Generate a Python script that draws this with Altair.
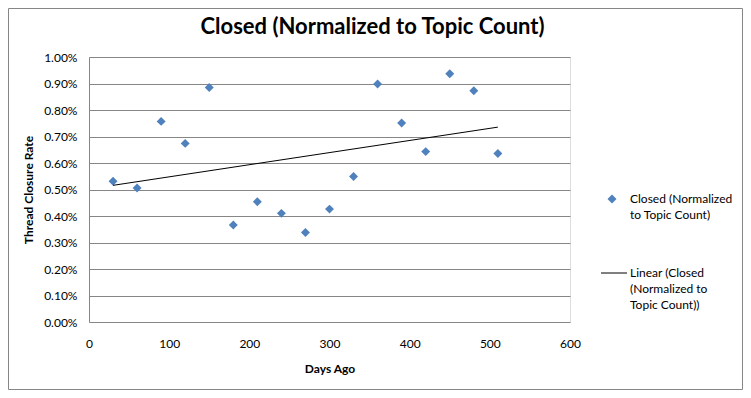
import altair as alt
import pandas as pd

days_ago = [30, 60, 90, 120, 150, 180, 210, 240, 270, 300, 330, 360, 390, 420, 450, 480, 510]
closure_rate = [0.00531, 0.00506, 0.00757, 0.00674, 0.00885, 0.00366, 0.00454, 0.00410, 0.00338,
                0.00426, 0.00549, 0.00898, 0.00751, 0.00643, 0.00937, 0.00873, 0.00636]
y_ticks = [0.0, 0.001, 0.002, 0.003, 0.004, 0.005, 0.006, 0.007, 0.008, 0.009, 0.01]
x_ticks = [0, 100, 200, 300, 400, 500, 600]

FONT = "Lato"
BLUE = "#4F81BD"
GRID = "#868686"

df = pd.DataFrame({"days": days_ago, "rate": closure_rate})
one = alt.Data(values=[{}])

x_axis = alt.Axis(values=x_ticks, tickCount=20, title="Days Ago", grid=False, ticks=False,
                  domain=False, labelPadding=16, titlePadding=14,
                  labelFlush=False, labelOverlap=False,
                  labelFontSize=12, titleFontSize=12, titleFontWeight="bold",
                  labelColor="black", titleColor="black", labelFont=FONT, titleFont=FONT)
y_axis = alt.Axis(values=y_ticks, tickCount=20, format=".2%", title="Thread Closure Rate",
                  grid=True, gridColor=GRID, gridWidth=1, ticks=False,
                  labelFlush=False, labelOverlap=False,
                  domain=True, domainColor=GRID, labelPadding=12, titlePadding=8,
                  labelFontSize=12, titleFontSize=12, titleFontWeight="bold",
                  labelColor="black", titleColor="black", labelFont=FONT, titleFont=FONT)
x_scale = alt.Scale(domain=[0, 600], nice=False)
y_scale = alt.Scale(domain=[0, 0.01], nice=False)

base = alt.Chart(df)

points = base.mark_point(shape="diamond", filled=True, size=80, color=BLUE, opacity=1).encode(
    x=alt.X("days:Q", scale=x_scale, axis=x_axis),
    y=alt.Y("rate:Q", scale=y_scale, axis=y_axis))

trend = base.transform_regression("days", "rate", method="linear").mark_line(
    color="black", strokeWidth=1).encode(
    x=alt.X("days:Q", scale=x_scale, axis=x_axis),
    y=alt.Y("rate:Q", scale=y_scale, axis=y_axis))

title = alt.Chart(one).mark_text(text="Closed (Normalized to Topic Count)", font=FONT,
                                 fontSize=22, fontWeight="bold", color="black",
                                 align="center", baseline="middle").encode(
    x=alt.value(283.5), y=alt.value(-30))

leg_marker = alt.Chart(one).mark_point(shape="diamond", filled=True, size=80, color=BLUE,
                                       opacity=1).encode(x=alt.value(523), y=alt.value(142))
leg_rule = alt.Chart(one).mark_rule(color="black", strokeWidth=1).encode(
    x=alt.value(512), x2=alt.value(538), y=alt.value(216))

leg_lines = [("Closed (Normalized", 142), ("to Topic Count)", 158),
             ("Linear (Closed", 216), ("(Normalized to", 232), ("Topic Count))", 248)]
leg_texts = [alt.Chart(one).mark_text(text=t, font=FONT, fontSize=12, color="black",
                                      align="left", baseline="middle").encode(
    x=alt.value(541), y=alt.value(yy)) for t, yy in leg_lines]

border = alt.Chart(one).mark_rect(fill=None, stroke=GRID, strokeWidth=1).encode(
    x=alt.value(-80.5), x2=alt.value(653.5), y=alt.value(-48.5), y2=alt.value(332.5))

chart = alt.layer(points, trend, border, title, leg_marker, leg_rule, *leg_texts).properties(
    width=481, height=265,
    autosize=alt.AutoSizeParams(type="none"),
    padding={"left": 81, "top": 49, "right": 173, "bottom": 68},
).configure_view(stroke=None).configure(background="white")

chart.save("out.html", embed_options={"renderer": "svg", "actions": False})
